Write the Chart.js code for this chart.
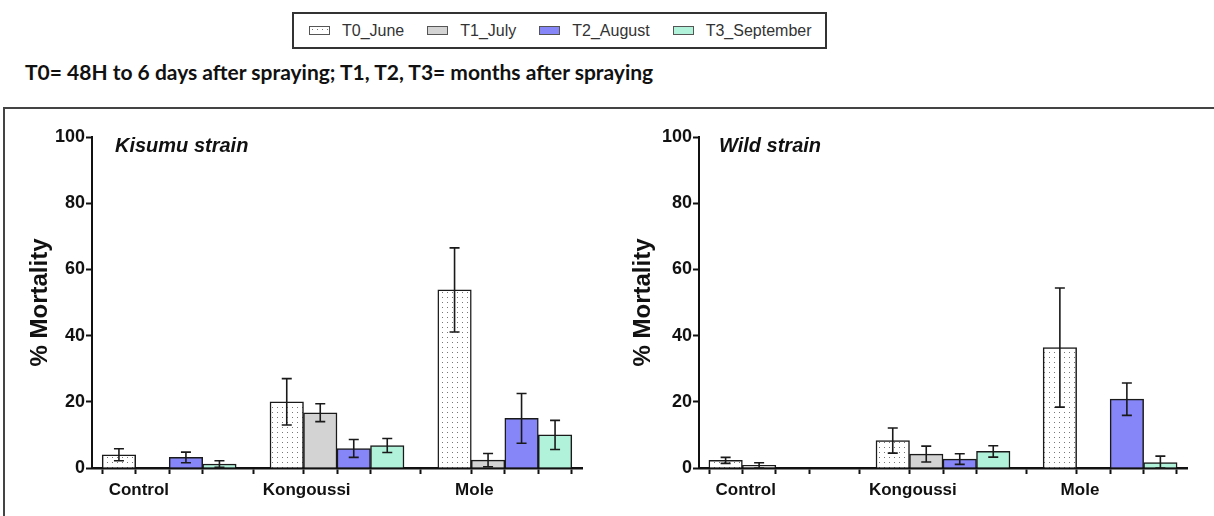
<!DOCTYPE html>
<html>
<head>
<meta charset="utf-8">
<script src="https://cdn.jsdelivr.net/npm/chart.js@4.4.1/dist/chart.umd.min.js"></script>
<style>
html,body{margin:0;padding:0;background:#fff;}
body{width:1214px;height:516px;position:relative;overflow:hidden;font-family:"Liberation Sans",Arial,sans-serif;}
#legend{position:absolute;left:292px;top:12px;width:535px;height:37px;box-sizing:border-box;border:2px solid #333;display:flex;align-items:center;padding-left:15px;}
.item{display:flex;align-items:center;margin-right:23px;font-size:16px;color:#333;}
.icon{width:21px;height:9px;border:1px solid #555;margin-right:12px;box-sizing:border-box;}
#subtitle{position:absolute;left:25px;top:59px;font-family:Lato,"Open Sans",sans-serif;font-weight:bold;font-size:21px;line-height:26px;color:#111;white-space:nowrap;}
#frame{position:absolute;left:3px;top:107px;right:-10px;bottom:-10px;border-top:2px solid #444;border-left:2px solid #444;}
.panel{position:absolute;top:110px;height:406px;}
.strain{position:absolute;font-family:"Liberation Sans",Arial,sans-serif;font-weight:bold;font-style:italic;font-size:20px;line-height:20px;color:#111;white-space:nowrap;}
</style>
</head>
<body>
<div id="legend"></div>
<div id="subtitle">T0= 48H to 6 days after spraying; T1, T2, T3= months after spraying</div>
<div id="frame"></div>
<div class="panel" style="left:0;width:600px;"><canvas id="c1" width="600" height="406"></canvas></div>
<div class="panel" style="left:607px;width:607px;"><canvas id="c2" width="607" height="406"></canvas></div>
<div class="strain" id="t1" style="left:115px;top:135px;"></div>
<div class="strain" id="t2" style="left:719px;top:135px;"></div>
<script>
// ---------- data ----------
const categories = ['Control', 'Kongoussi', 'Mole'];
const seriesNames = ['T0_June', 'T1_July', 'T2_August', 'T3_September'];
const yTicks = [0, 20, 40, 60, 80, 100];
const panelTitles = ['Kisumu strain', 'Wild strain'];

// Kisumu strain (mean, error)
const kisumuT0 = [4.0, 20.0, 53.8];
const kisumuT0Err = [1.8, 7.0, 12.7];
const kisumuT1 = [0, 16.7, 2.4];
const kisumuT1Err = [0, 2.7, 2.0];
const kisumuT2 = [3.2, 5.9, 15.0];
const kisumuT2Err = [1.6, 2.7, 7.5];
const kisumuT3 = [1.2, 6.8, 10.0];
const kisumuT3Err = [1.0, 2.1, 4.4];

// Wild strain (mean, error)
const wildT0 = [2.3, 8.3, 36.4];
const wildT0Err = [0.9, 3.8, 18.0];
const wildT1 = [0.8, 4.2, 0];
const wildT1Err = [0.8, 2.4, 0];
const wildT2 = [0, 2.7, 20.8];
const wildT2Err = [0, 1.6, 4.9];
const wildT3 = [0, 5.0, 1.6];
const wildT3Err = [0, 1.7, 2.0];

// ---------- styles ----------
function makeDotPattern() {
  const c = document.createElement('canvas');
  c.width = 5; c.height = 5;
  const g = c.getContext('2d');
  g.fillStyle = '#ffffff'; g.fillRect(0, 0, 5, 5);
  g.fillStyle = '#777777'; g.fillRect(2, 2, 1, 1);
  return c;
}
const dotCanvas = makeDotPattern();
const dotPattern = document.createElement('canvas').getContext('2d').createPattern(dotCanvas, 'repeat');
const fills = [dotPattern, '#d3d3d3', '#8686f8', '#b0f2da'];
const legendFills = ['url(' + dotCanvas.toDataURL() + ')', '#d3d3d3', '#8686f8', '#b0f2da'];

// legend
const legend = document.getElementById('legend');
seriesNames.forEach((n, i) => {
  const it = document.createElement('div'); it.className = 'item';
  const ic = document.createElement('div'); ic.className = 'icon'; ic.style.background = legendFills[i];
  const tx = document.createElement('span'); tx.textContent = n;
  it.appendChild(ic); it.appendChild(tx); legend.appendChild(it);
});
document.getElementById('t1').textContent = panelTitles[0];
document.getElementById('t2').textContent = panelTitles[1];

const xTickFont = {family: "'Liberation Sans', Arial, sans-serif", size: 17, weight: 'bold'};
const yTickFont = {family: "'Liberation Sans', Arial, sans-serif", size: 18, weight: 'bold'};
const groupFrac = 0.8;
const barCenters = categories.flatMap((c, i) => seriesNames.map((s, j) => i + (j - 1.5) * groupFrac / seriesNames.length));

const errorBarPlugin = {
  id: 'errorBars',
  afterDatasetsDraw(chart) {
    const {ctx} = chart;
    const y = chart.scales.y;
    ctx.save();
    ctx.strokeStyle = '#1a1a1a';
    ctx.lineWidth = 1.6;
    chart.data.datasets.forEach((ds, di) => {
      const meta = chart.getDatasetMeta(di);
      meta.data.forEach((bar, i) => {
        const e = ds.errors[i];
        if (!e) return;
        const v = ds.data[i].y;
        const x = bar.x;
        const yTop = y.getPixelForValue(v + e);
        const yBot = y.getPixelForValue(Math.max(0, v - e));
        ctx.beginPath();
        ctx.moveTo(x, yTop); ctx.lineTo(x, yBot);
        ctx.moveTo(x - 5, yTop); ctx.lineTo(x + 5, yTop);
        ctx.moveTo(x - 5, yBot); ctx.lineTo(x + 5, yBot);
        ctx.stroke();
      });
    });
    ctx.restore();
  }
};

function makeChart(id, series, errors, titlePad, padRight) {
  const datasets = series.map((vals, k) => ({
    label: seriesNames[k],
    data: vals.map((v, i) => ({x: i, y: v})),
    errors: errors[k],
    backgroundColor: fills[k],
    borderColor: '#1a1a1a',
    borderWidth: 1.5,
    barThickness: 33.5
  }));
  return new Chart(document.getElementById(id), {
    type: 'bar',
    data: {datasets},
    plugins: [errorBarPlugin],
    options: {
      responsive: false,
      animation: false,
      devicePixelRatio: 1,
      layout: {padding: {top: 27, right: padRight, left: 0, bottom: 0}},
      plugins: {legend: {display: false}, tooltip: {enabled: false}},
      scales: {
        x: {
          type: 'linear', min: -0.46, max: 2.46, offset: false,
          afterBuildTicks: s => { s.ticks = barCenters.map(v => ({value: v})); },
          afterFit: s => { s.height = 48; },
          grid: {drawOnChartArea: false, drawTicks: true, tickLength: 6, tickWidth: 2, tickColor: '#111'},
          border: {display: true, width: 2.5, color: '#111'},
          ticks: {
            autoSkip: false, maxRotation: 0, minRotation: 0, labelOffset: 20, padding: 6,
            font: xTickFont, color: '#111',
            callback: (v, i) => (i % seriesNames.length === 0 ? categories[i / seriesNames.length] : '')
          }
        },
        y: {
          min: 0, max: 100,
          afterBuildTicks: s => { s.ticks = yTicks.map(v => ({value: v})); },
          afterFit: s => { s.width = 92; },
          grid: {drawOnChartArea: false, drawTicks: true, tickLength: 6, tickWidth: 2, tickColor: '#111'},
          border: {display: true, width: 2, color: '#111'},
          ticks: {font: yTickFont, color: '#111', padding: 1},
          title: {
            display: true, text: '% Mortality', color: '#111',
            font: {family: "'Liberation Sans', Arial, sans-serif", size: 24, weight: 'bold'},
            padding: {top: titlePad, bottom: 0}
          }
        }
      }
    }
  });
}

makeChart('c1', [kisumuT0, kisumuT1, kisumuT2, kisumuT3], [kisumuT0Err, kisumuT1Err, kisumuT2Err, kisumuT3Err], 25.6, 18);
makeChart('c2', [wildT0, wildT1, wildT2, wildT3], [wildT0Err, wildT1Err, wildT2Err, wildT3Err], 21.6, 27);
</script>
</body>
</html>
